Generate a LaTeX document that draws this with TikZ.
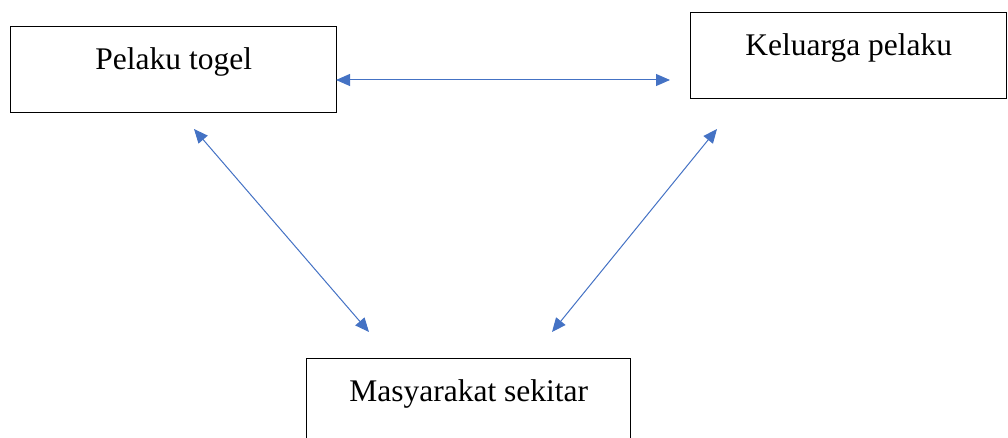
\documentclass[tikz,border=0pt]{standalone}
\usepackage{fontspec}
\setmainfont{Liberation Serif}
\usetikzlibrary{arrows.meta}
\definecolor{arrowblue}{HTML}{4472C4}
\tikzset{
  box/.style={draw=black, line width=1.4pt, inner sep=0pt, anchor=north west,
    text height=43pt, text depth=43pt, font=\fontsize{31.5}{36}\selectfont},
  link/.style={draw=arrowblue, line width=1pt,
    {Triangle[length=14pt,width=12pt]}-{Triangle[length=14pt,width=12pt]}}
}
\begin{document}
\begin{tikzpicture}[x=1pt,y=-1pt]
\useasboundingbox (0,0) rectangle (1008,438);
\node[box, minimum width=326pt] (pelaku) at (10,26) {Pelaku togel};
\node[box, minimum width=316pt] (keluarga) at (690,12) {Keluarga pelaku};
\node[box, minimum width=324pt] (masyarakat) at (306,358) {Masyarakat sekitar};
\coordinate (h1) at (336,80);
\coordinate (h2) at (670,80);
\coordinate (l1) at (194,129);
\coordinate (l2) at (369,332);
\coordinate (r1) at (717,129);
\coordinate (r2) at (552,332);
\draw[link] (h1) -- (h2);
\draw[link] (l1) -- (l2);
\draw[link] (r1) -- (r2);
\end{tikzpicture}
\end{document}
